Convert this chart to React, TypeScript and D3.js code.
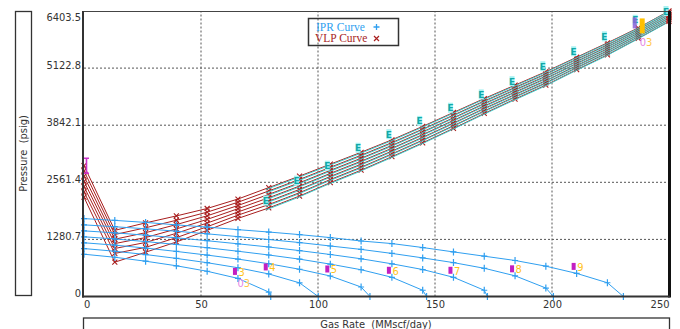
import React, { useEffect, useRef } from 'react';
import * as d3 from 'd3';

// gas rate grid used by every curve (MMscf/day)
const rates = [0, 13.16, 26.32, 39.47, 52.63, 65.79, 78.95, 92.11, 105.26, 118.42, 131.58, 144.74, 157.89, 171.05, 184.21, 197.37, 210.53, 223.68, 236.84, 250];

const xTicks = [0, 50, 100, 150, 200, 250];
const yTicks = [0, 1280.7, 2561.4, 3842.1, 5122.8, 6403.5];

// IPR curves (pressure psig at each rate, then AOF where pressure is 0)
const iprNames = ['3', '4', '5', '6', '7', '8', '9'];
const iprAof = [79.8, 100.1, 122.2, 146.4, 172.4, 200.6, 230.5];
const iprLabelAt = [5, 6, 8, 10, 12, 14, 16];
const ipr3 = [948, 880, 792, 689, 566, 406, 100];
const ipr4 = [1075, 1015, 941, 855, 758, 645, 506, 306];
const ipr5 = [1205, 1152, 1087, 1011, 929, 839, 735, 611, 460, 213];
const ipr6 = [1339, 1291, 1232, 1166, 1094, 1015, 931, 838, 726, 600, 431, 140];
const ipr7 = [1472, 1428, 1375, 1317, 1251, 1182, 1110, 1029, 942, 846, 733, 605, 431, 140];
const ipr8 = [1607, 1565, 1519, 1464, 1406, 1343, 1278, 1210, 1133, 1056, 966, 866, 760, 633, 464, 190];
const ipr9 = [1747, 1707, 1662, 1606, 1557, 1499, 1446, 1388, 1321, 1245, 1187, 1098, 1000, 904, 808, 680, 518, 308];

// VLP curves
const vlp1 = [2934, 1484, 1651, 1807, 1974, 2186, 2443, 2700, 2967, 3235, 3514, 3815, 4127, 4440, 4741, 5042, 5366, 5689, 6024, 6403.5];
const vlp2 = [2816, 1390, 1541, 1710, 1892, 2114, 2367, 2626, 2898, 3168, 3451, 3754, 4068, 4384, 4689, 4992, 5320, 5644, 5985, 6365];
const vlp3 = [2698, 1285, 1431, 1613, 1810, 2041, 2291, 2551, 2829, 3101, 3388, 3693, 4008, 4328, 4637, 4942, 5273, 5600, 5946, 6326];
const vlp4 = [2581, 1187, 1322, 1515, 1729, 1969, 2215, 2477, 2761, 3034, 3325, 3631, 3949, 4273, 4585, 4892, 5227, 5555, 5907, 6287];
const vlp5 = [2463, 1077, 1212, 1418, 1647, 1896, 2138, 2402, 2692, 2967, 3261, 3570, 3889, 4217, 4532, 4841, 5180, 5510, 5867, 6248];
const vlp6 = [2345, 966, 1102, 1320, 1565, 1824, 2062, 2328, 2623, 2900, 3198, 3508, 3830, 4161, 4480, 4791, 5134, 5466, 5828, 6209];
const vlp7 = [2227, 770, 993, 1223, 1484, 1751, 1986, 2253, 2554, 2833, 3135, 3447, 3770, 4105, 4428, 4741, 5087, 5421, 5789, 6170];
const extFrom = 6; // cyan "E" part starts at this rate index
// pressures of the "E" markers, rate indices extFrom..19
const extE = [2153, 2599, 2934, 3336, 3641, 3939, 4234, 4533, 4830, 5165, 5500, 5835, 6207, 6403.5];

const IPR_COLOR = '#2f9ff0';
const VLP_COLOR = '#a81e1e';
const EXT_COLOR = '#3cc9c9';
const FONT = '"Liberation Sans Narrow", "DejaVu Sans Condensed", "Open Sans", sans-serif';

const App = () => {
  const ref = useRef<SVGSVGElement>(null);

  useEffect(() => {
    const svg = d3.select(ref.current);
    svg.selectAll('*').remove();

    const x = d3.scaleLinear().domain([0, 250]).range([84, 669]);
    const y = d3.scaleLinear().domain([0, 6403.5]).range([296.5, 11]);

    //grid
    const grid = svg.append('g').attr('stroke', '#555').attr('stroke-width', 1).attr('stroke-dasharray', '2,2');
    xTicks.slice(1, -1).forEach((t) => {
      grid.append('line').attr('x1', x(t)).attr('x2', x(t)).attr('y1', y(0)).attr('y2', y(6403.5));
    });
    yTicks.slice(1, -1).forEach((t) => {
      grid.append('line').attr('x1', x(0)).attr('x2', x(250)).attr('y1', y(t)).attr('y2', y(t));
    });

    const line = d3.line<[number, number]>().x((d) => x(d[0])).y((d) => y(d[1]));

    //VLP curves
    const vlps = [vlp1, vlp2, vlp3, vlp4, vlp5, vlp6, vlp7];
    const vg = svg.append('g');
    vlps.forEach((v) => {
      const pts = v.map((p, i) => [rates[i], p] as [number, number]);
      vg.append('path').attr('d', line(pts)).attr('fill', 'none').attr('stroke', VLP_COLOR).attr('stroke-width', 1);
    });

    //cyan extension lines
    const eg = svg.append('g').attr('transform', 'translate(-3,2)');
    vlps.forEach((v) => {
      const pts = v.map((p, i) => [rates[i], p] as [number, number]).slice(extFrom);
      eg.append('path').attr('d', line(pts)).attr('fill', 'none').attr('stroke', EXT_COLOR).attr('stroke-width', 1);
    });

    vlps.forEach((v) => {
      v.forEach((p, i) => {
        vg.append('path')
          .attr('transform', `translate(${x(rates[i])},${y(p)})`)
          .attr('d', 'M-2.5,-2.5L2.5,2.5M-2.5,2.5L2.5,-2.5')
          .attr('stroke', VLP_COLOR)
          .attr('stroke-width', 1.1);
      });
    });

    //E markers
    extE.forEach((p, j) => {
      const cx = x(rates[j + extFrom]) - 3;
      const cy = Math.max(y(p), 8.5);
      svg.append('rect').attr('x', cx - 2.5).attr('y', cy - 5).attr('width', 5).attr('height', 10).attr('fill', '#a8f2f2');
      svg.append('text').attr('x', cx).attr('y', cy + 3.5).attr('text-anchor', 'middle')
        .attr('font-family', 'DejaVu Sans, sans-serif').attr('font-size', 9).attr('font-weight', 'bold')
        .attr('fill', '#12a8a8').text('E');
    });

    //IPR curves
    const iprs = [ipr3, ipr4, ipr5, ipr6, ipr7, ipr8, ipr9];
    const ig = svg.append('g');
    iprs.forEach((c, n) => {
      const pts = c.map((p, i) => [rates[i], p] as [number, number]);
      pts.push([iprAof[n], 0]);
      ig.append('path').attr('d', line(pts)).attr('fill', 'none').attr('stroke', IPR_COLOR).attr('stroke-width', 1);
      pts.forEach((d) => {
        ig.append('path')
          .attr('transform', `translate(${x(d[0])},${y(d[1])})`)
          .attr('d', 'M-3,0H3M0,-3.5V3.5')
          .attr('stroke', IPR_COLOR)
          .attr('stroke-width', 1.2);
      });
    });

    //curve labels
    iprs.forEach((c, n) => {
      const k = iprLabelAt[n];
      const px = x(rates[k]);
      const py = y(c[k]);
      svg.append('rect').attr('x', px - 5).attr('y', py - 10.5).attr('width', 4).attr('height', 7).attr('fill', '#c21fc2');
      svg.append('text').attr('x', px + 0.5).attr('y', py - 2.5)
        .attr('font-family', FONT).attr('font-size', 11).attr('fill', '#ffc21a').text(iprNames[n]);
    });

    const label03 = (px: number, py: number) => {
      const t = svg.append('text').attr('x', px).attr('y', py).attr('font-family', FONT).attr('font-size', 11);
      t.append('tspan').attr('fill', '#e486e4').text('0');
      t.append('tspan').attr('fill', '#ffc84a').text('3');
    };
    label03(x(rates[iprLabelAt[0]]) - 0.5, y(ipr3[iprLabelAt[0]]) + 9);

    const tx = x(rates[18]);
    const ty = y(vlp1[18]);
    svg.append('rect').attr('x', tx - 5.5).attr('y', ty - 10.5).attr('width', 4).attr('height', 11).attr('fill', '#8a62d8').attr('opacity', 0.85);
    svg.append('rect').attr('x', tx + 1.5).attr('y', ty - 9.5).attr('width', 5).attr('height', 15).attr('fill', '#ffc000');
    label03(tx + 1.5, ty + 18.5);

    //magenta I marker at zero rate
    const mx = x(0) + 2.5;
    const my = y(vlp1[0]);
    svg.append('path')
      .attr('d', `M${mx - 2.5},${my - 7.5}H${mx + 2.5}M${mx},${my - 7.5}V${my + 7.5}M${mx - 2.5},${my + 7.5}H${mx + 2.5}`)
      .attr('stroke', '#cc33cc').attr('stroke-width', 1.6).attr('fill', 'none');

    //frame
    svg.append('line').attr('x1', 83).attr('x2', 670).attr('y1', 11.5).attr('y2', 11.5).attr('stroke', '#444').attr('stroke-width', 1);
    svg.append('line').attr('x1', 669.5).attr('x2', 669.5).attr('y1', 11).attr('y2', 297.5).attr('stroke', '#111').attr('stroke-width', 3);
    svg.append('line').attr('x1', 83).attr('x2', 83).attr('y1', 11).attr('y2', 297.5).attr('stroke', '#333').attr('stroke-width', 2);
    svg.append('line').attr('x1', 82).attr('x2', 670).attr('y1', 296.5).attr('y2', 296.5).attr('stroke', '#333').attr('stroke-width', 2);

    //axes labels
    const yAxis = svg.append('g').attr('transform', 'translate(83,0)')
      .call(d3.axisLeft(y).tickValues(yTicks).tickSize(0).tickPadding(2).tickFormat((d) => String(d)));
    yAxis.select('.domain').remove();
    yAxis.selectAll('text').attr('dy', (d) => (d === 6403.5 ? 9 : 0))
      .attr('font-family', FONT).attr('font-size', 11).attr('fill', '#333');

    const xAxis = svg.append('g').attr('transform', 'translate(0,296.5)')
      .call(d3.axisBottom(x).tickValues(xTicks).tickSize(0).tickPadding(3.5).tickFormat((d) => String(d)));
    xAxis.select('.domain').remove();
    xAxis.selectAll('text')
      .attr('text-anchor', (d) => (d === 0 ? 'start' : d === 250 ? 'end' : 'middle'))
      .attr('dx', (d) => (d === 0 ? -0.5 : 0))
      .attr('font-family', FONT).attr('font-size', 11).attr('fill', '#333');

    //axis titles
    svg.append('rect').attr('x', 15.5).attr('y', 11.5).attr('width', 16).attr('height', 284)
      .attr('fill', 'none').attr('stroke', '#333').attr('stroke-width', 1.3);
    svg.append('text').attr('transform', 'translate(27,153.5) rotate(-90)').attr('text-anchor', 'middle')
      .style('white-space', 'pre').attr('font-family', FONT).attr('font-size', 11).attr('fill', '#333')
      .text('Pressure  (psig)');
    svg.append('rect').attr('x', 83.5).attr('y', 318).attr('width', 586).attr('height', 20)
      .attr('fill', 'none').attr('stroke', '#333').attr('stroke-width', 1.3);
    svg.append('text').attr('x', 376).attr('y', 327.5).attr('text-anchor', 'middle')
      .style('white-space', 'pre').attr('font-family', FONT).attr('font-size', 11).attr('fill', '#333')
      .text('Gas Rate  (MMscf/day)');

    //legend
    const lg = svg.append('g').attr('transform', 'translate(308.5,18.5)');
    lg.append('rect').attr('width', 90).attr('height', 27).attr('fill', 'none').attr('stroke', '#333').attr('stroke-width', 1.5);
    lg.append('text').attr('x', 7.5).attr('y', 12.5).attr('font-family', '"Liberation Serif", serif')
      .attr('font-size', 11.5).attr('fill', IPR_COLOR).text('IPR Curve');
    lg.append('text').attr('x', 6.5).attr('y', 23).attr('font-family', '"Liberation Serif", serif')
      .attr('font-size', 11.5).attr('fill', VLP_COLOR).text('VLP Curve');
    lg.append('path').attr('transform', 'translate(68,8.5)').attr('d', 'M-3,0H3M0,-3V3')
      .attr('stroke', IPR_COLOR).attr('stroke-width', 1.3);
    lg.append('path').attr('transform', 'translate(68,20)').attr('d', 'M-2.5,-2.5L2.5,2.5M-2.5,2.5L2.5,-2.5')
      .attr('stroke', VLP_COLOR).attr('stroke-width', 1.2);
  }, []);

  return (
    <div style={{ position: 'absolute', left: 0, top: 0 }}>
      <svg ref={ref} width={680} height={329} style={{ display: 'block', background: '#fff' }}></svg>
    </div>
  );
};

export default App;
